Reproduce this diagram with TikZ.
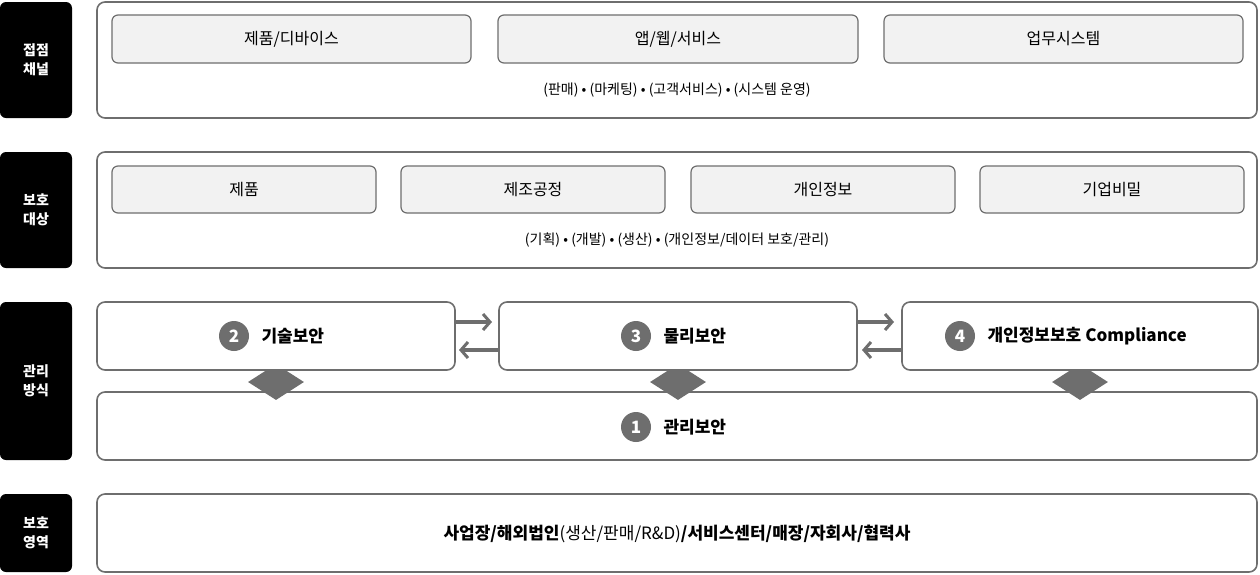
\documentclass[tikz,border=0pt]{standalone}
\usepackage{fontspec}
\setmainfont{Noto Sans CJK KR}
\usetikzlibrary{arrows.meta,shapes.geometric}
\definecolor{bd}{HTML}{6E6E6E}
\definecolor{inner}{HTML}{F2F2F2}
\tikzset{
 lab/.style={fill=black,rounded corners=6pt,text=white,font=\bfseries\fontsize{14}{19}\selectfont,align=center,inner sep=0},
 outer/.style={draw=bd,line width=1.6pt,rounded corners=8pt,fill=white},
 inbox/.style={draw=bd,line width=1.2pt,rounded corners=6pt,fill=inner,font=\fontsize{16}{20}\selectfont},
 sub/.style={font=\fontsize{14}{18}\selectfont},
 num/.style={circle,fill=bd,text=white,minimum size=30pt,inner sep=0,font=\bfseries\fontsize{17}{20}\selectfont},
 ttl/.style={font=\bfseries\fontsize{17}{20}\selectfont},
 dia/.style={diamond,fill=bd,minimum width=56pt,minimum height=36pt,inner sep=0},
 arr/.style={draw=bd,line width=4pt,-{Straight Barb[length=7pt,width=16pt,line width=3pt]}}
}
\begin{document}
\begin{tikzpicture}[x=1pt,y=-1pt]
\useasboundingbox (0,0) rectangle (1260,574);
% left labels
\node[lab,minimum width=72pt,minimum height=116pt] (l1) at (36,60) {접점\\채널};
\node[lab,minimum width=72pt,minimum height=116pt] (l2) at (36,210) {보호\\대상};
\node[lab,minimum width=72pt,minimum height=158pt] (l3) at (36,381) {관리\\방식};
\node[lab,minimum width=72pt,minimum height=78pt] (l4) at (36,533) {보호\\영역};
% row 1
\draw[outer] (97,2) rectangle (1257,118);
\node[inbox,minimum width=359pt,minimum height=48pt] (a1) at (291.5,39) {제품/디바이스};
\node[inbox,minimum width=360pt,minimum height=48pt] (a2) at (678,39) {앱/웹/서비스};
\node[inbox,minimum width=359pt,minimum height=48pt] (a3) at (1063.5,39) {업무시스템};
\node[sub] (s1) at (677,90) {(판매) • (마케팅) • (고객서비스) • (시스템 운영)};
% row 2
\draw[outer] (97,152) rectangle (1257,268);
\node[inbox,minimum width=264pt,minimum height=47pt] (b1) at (244,189.5) {제품};
\node[inbox,minimum width=264pt,minimum height=47pt] (b2) at (533,189.5) {제조공정};
\node[inbox,minimum width=264pt,minimum height=47pt] (b3) at (823,189.5) {개인정보};
\node[inbox,minimum width=264pt,minimum height=47pt] (b4) at (1112,189.5) {기업비밀};
\node[sub] (s2) at (677,240) {(기획) • (개발) • (생산) • (개인정보/데이터 보호/관리)};
% row 3
\draw[outer] (97,392) rectangle (1257,460);
\node[dia] (d1) at (276,382) {};
\node[dia] (d2) at (678,382) {};
\node[dia] (d3) at (1080,382) {};
\draw[outer] (97,302) rectangle (455,370);
\draw[outer] (499,302) rectangle (857,370);
\draw[outer] (902,302) rectangle (1258,370);
\node[num] (n2) at (234,336) {2};
\node[ttl,anchor=west] (t2) at (258,336) {기술보안};
\node[num] (n3) at (636,336) {3};
\node[ttl,anchor=west] (t3) at (660,336) {물리보안};
\node[num] (n4) at (960,336) {4};
\node[ttl,anchor=west] (t4) at (984,336) {개인정보보호 Compliance};
\node[num] (n1) at (636,427) {1};
\node[ttl,anchor=west] (t1) at (660,427) {관리보안};
\coordinate (p1) at (455,322); \coordinate (p2) at (492,322);
\coordinate (p3) at (499,350); \coordinate (p4) at (459,350);
\coordinate (q1) at (857,322); \coordinate (q2) at (894,322);
\coordinate (q3) at (902,350); \coordinate (q4) at (862,350);
\draw[arr] (p1) -- (p2); \draw[arr] (p3) -- (p4);
\draw[arr] (q1) -- (q2); \draw[arr] (q3) -- (q4);
% row 4
\draw[outer] (97,494) rectangle (1257,572);
\node[font=\fontsize{17}{20}\selectfont] (t5) at (677,534) {\textbf{사업장/해외법인}(생산/판매/R\&D)\textbf{/서비스센터/매장/자회사/협력사}};
\end{tikzpicture}
\end{document}
